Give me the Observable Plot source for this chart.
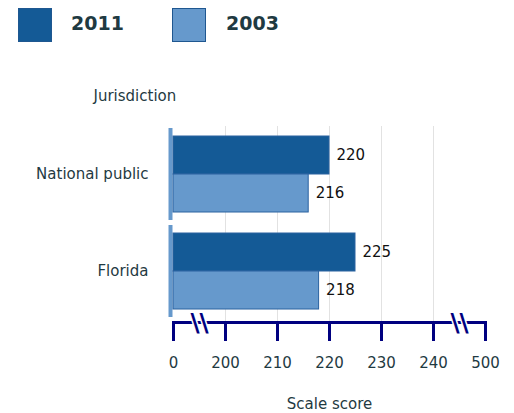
<!DOCTYPE html>
<html>
<head>
<meta charset="utf-8">
<script src="https://cdn.jsdelivr.net/npm/d3@7"></script>
<script src="https://cdn.jsdelivr.net/npm/@observablehq/plot@0.6"></script>
<style>
  body { margin: 0; background: #fff; font-family: "DejaVu Sans", sans-serif; }
  #legend { position: relative; height: 50px; }
  .sw { position: absolute; top: 8px; width: 32px; height: 32px; border: 1px solid #1f5790; }
  .lt { position: absolute; top: 12px; font-size: 19px; font-weight: bold; color: #1f3a42; }
  svg { display: block; }
</style>
</head>
<body>
<div id="legend"></div>
<div id="chart"></div>
<script>
// ---- data ----
const jurisdictions = ["National public", "Florida"];
const years = ["2011", "2003"];
const scores2011 = [220, 225];
const scores2003 = [216, 218];
const tickValues = [0, 200, 210, 220, 230, 240, 500];
const gridValues = [200, 210, 220, 230, 240];
const breakValues = [100, 370];
const colors = ["#145a96", "#6699cc"];

const data = [];
jurisdictions.forEach((j, i) => {
  data.push({jurisdiction: j, year: years[0], value: scores2011[i]});
  data.push({jurisdiction: j, year: years[1], value: scores2003[i]});
});

// ---- legend ----
const legend = document.getElementById("legend");
years.forEach((y, i) => {
  const sw = document.createElement("div");
  sw.className = "sw";
  sw.style.left = (18 + i * 154) + "px";
  sw.style.background = colors[i];
  legend.appendChild(sw);
  const t = document.createElement("div");
  t.className = "lt";
  t.style.left = (71 + i * 155) + "px";
  t.textContent = y;
  legend.appendChild(t);
});

// ---- chart ----
const left = 173, right = 485;
const step = (right - left) / (tickValues.length - 1);
const navy = "#000080";
const lastJ = jurisdictions[jurisdictions.length - 1];

const chart = Plot.plot({
  width: 514,
  height: 363,
  marginLeft: left,
  marginRight: 514 - right,
  marginTop: 78,
  marginBottom: 95,
  style: {fontFamily: "DejaVu Sans, sans-serif", color: "#1f3a42", background: "#fff"},
  x: {type: "linear", domain: tickValues, range: tickValues.map((_, i) => left + i * step), zero: false, nice: false, axis: null},
  fy: {domain: jurisdictions, paddingInner: 0.05, paddingOuter: 0, axis: null},
  y: {domain: years, paddingInner: 0, paddingOuter: 0.2, axis: null},
  color: {domain: years, range: colors},
  marks: [
    Plot.gridX(gridValues, {stroke: "#e2e2e2", strokeOpacity: 1, insetTop: -2, insetBottom: -5}),
    Plot.ruleX([0], {stroke: "#6699cc", strokeWidth: 4, dx: -3}),
    Plot.barX(data, {fy: "jurisdiction", y: "year", x: "value", fill: "year", stroke: "#2a62a0", strokeWidth: 1}),
    Plot.text(data, {fy: "jurisdiction", y: "year", x: "value", text: d => String(d.value), dx: 7, textAnchor: "start", fontSize: 15, fill: "#111"}),
    Plot.axisFy({anchor: "left", tickSize: 0, tickPadding: 25, fontSize: 15, label: null}),
    Plot.frame({anchor: "bottom", facetAnchor: "bottom", stroke: navy, strokeWidth: 3, dy: 5}),
    Plot.axisX({ticks: tickValues, tickSize: 19, stroke: navy, strokeWidth: 3, tickPadding: 16, fontSize: 15, dy: 5, label: null, tickFormat: d => String(d)}),
    Plot.text(breakValues, {x: d => d, fy: () => lastJ, text: () => "\\\\", frameAnchor: "bottom", dy: 13, fontSize: 25, fontWeight: "bold", fill: navy, stroke: "#fff", strokeWidth: 3, paintOrder: "stroke"}),
    Plot.text(["Jurisdiction"], {fy: () => jurisdictions[0], frameAnchor: "top-left", dx: -80, dy: -38, textAnchor: "start", fontSize: 15}),
    Plot.text(["Scale score"], {fy: () => lastJ, frameAnchor: "bottom", dy: 91, fontSize: 15})
  ]
});
document.getElementById("chart").appendChild(chart);
</script>
</body>
</html>
